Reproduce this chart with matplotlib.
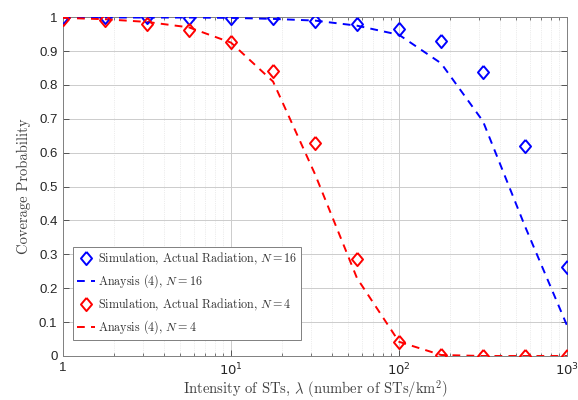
import matplotlib
matplotlib.use("Agg")
import matplotlib.pyplot as plt
import numpy as np

# intensity of STs (13 log-spaced points, 1 .. 1000)
lam = [1, 1.78, 3.16, 5.62, 10, 17.8, 31.6, 56.2, 100, 178, 316, 562, 1000]

# N = 16
sim16 = [1.0, 1.0, 1.0, 0.999, 0.999, 0.997, 0.99, 0.98, 0.965, 0.929, 0.837, 0.621, 0.262]
ana16 = [0.999, 0.999, 0.999, 0.999, 0.998, 0.995, 0.99, 0.975, 0.948, 0.864, 0.693, 0.383, 0.09]

# N = 4
sim4 = [0.995, 0.992, 0.98, 0.963, 0.927, 0.841, 0.628, 0.286, 0.042, 0.002, 0.0, 0.0, 0.0]
ana4 = [0.998, 0.994, 0.986, 0.97, 0.925, 0.81, 0.537, 0.23, 0.042, 0.003, 0.0, 0.0, 0.0]

labels = [r"Simulation, Actual Radiation, $N=16$", r"Anaysis (4), $N=16$",
          r"Simulation, Actual Radiation, $N=4$", r"Anaysis (4), $N=4$"]

plt.rcParams["mathtext.fontset"] = "cm"
plt.rcParams["axes.formatter.use_mathtext"] = True

fig = plt.figure(figsize=(5.78, 4.0), dpi=100)
ax = fig.add_axes([0.109, 0.11, 0.872, 0.847])

# MATLAB-like diamond (taller than wide)
diam = [(0, 1), (0.84, 0), (0, -1), (-0.84, 0), (0, 1)]
dash = (4.0, 3.2)

ax.plot(lam, sim16, ls="none", marker=diam, ms=9.5, mfc="none", mec="b", mew=1.4,
        label=labels[0], zorder=4)
ax.plot(lam, ana16, ls=(0, dash), color="b", lw=1.4, label=labels[1], zorder=3)
ax.plot(lam, sim4, ls="none", marker=diam, ms=9.5, mfc="none", mec="r", mew=1.4,
        label=labels[2], zorder=4)
ax.plot(lam, ana4, ls=(0, dash), color="r", lw=1.4, label=labels[3], zorder=3)

ax.set_xscale("log")
ax.set_xlim(1, 1000)
ax.set_ylim(0, 1)

ax.set_xticks([1, 10, 100, 1000])
ax.set_xticklabels(["1", r"$10^{1}$", r"$10^{2}$", r"$10^{3}$"],
                   fontfamily="Liberation Sans", math_fontfamily="dejavusans", fontsize=9.5)
yt = np.round(np.arange(0, 1.01, 0.1), 1)
ax.set_yticks(yt)
ax.set_yticklabels(["0" if v == 0 else ("1" if v == 1 else f"{v:.1f}") for v in yt],
                   fontfamily="Liberation Sans", fontsize=9.5)

ax.tick_params(which="both", direction="in", top=True, right=True, colors="0.25",
               labelcolor="0.15", pad=4)
ax.tick_params(which="major", length=4, width=0.6)
ax.tick_params(which="minor", length=2.5, width=0.5)
for s in ax.spines.values():
    s.set_color("0.5")
    s.set_linewidth(0.7)

ax.grid(True, which="major", color="0.8", lw=0.7)
ax.grid(True, which="minor", axis="x", color="0.86", lw=0.5, ls=":")
ax.set_axisbelow(True)

ax.set_xlabel(r"Intensity of STs, $\lambda$ (number of STs/km$^2$)",
              fontfamily="cmr10", fontsize=10.5, color="0.25", labelpad=0)
ax.set_ylabel("Coverage Probability", fontfamily="cmr10", fontsize=10.5, color="0.25",
              labelpad=6)

leg = ax.legend(loc="lower left", bbox_to_anchor=(0.02, 0.047), fancybox=False,
                edgecolor="0.5", framealpha=1, handlelength=1.5, handletextpad=0.3,
                borderaxespad=0, borderpad=0.3, labelspacing=0.5,
                prop={"family": "cmr10", "size": 8.7})
leg.get_frame().set_linewidth(0.7)
for t in leg.get_texts():
    t.set_color("0.2")

fig.savefig("out.png", dpi=100)
